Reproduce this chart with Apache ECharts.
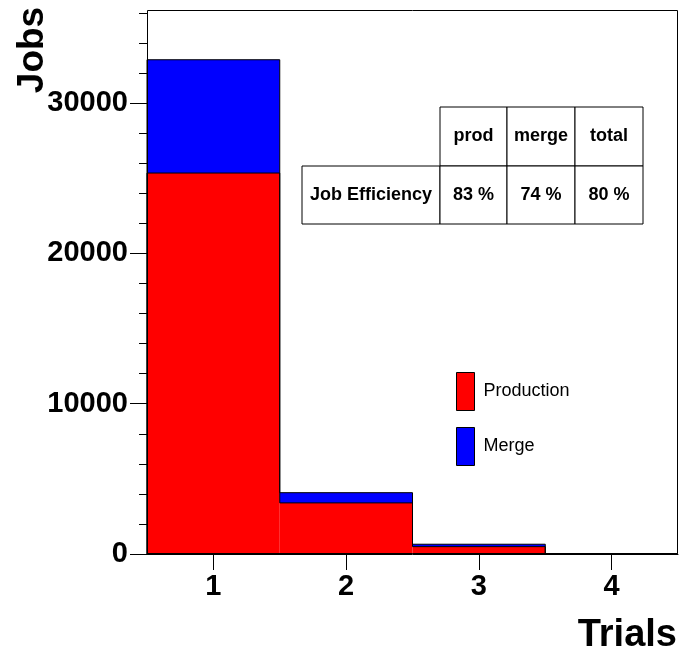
<!DOCTYPE html>
<html>
<head>
<meta charset="utf-8">
<script src="https://cdn.jsdelivr.net/npm/echarts@6/dist/echarts.min.js"></script>
<style>html,body{margin:0;padding:0;background:#fff;}#main{width:680px;height:653px;}</style>
</head>
<body>
<div id="main"></div>
<script>
var categories = ['1', '2', '3', '4'];
var production = [25350, 3400, 490, 0];
var merge = [7540, 680, 160, 0];
var yMax = 36000;
var yLabelMax = 30000;
var tableCols = ['prod', 'merge', 'total'];
var tableRowLabel = 'Job Efficiency';
var efficiency = ['83 %', '74 %', '80 %'];

var FONT = '"Liberation Sans", Arial, Helvetica, sans-serif';
var totals = production.map(function (p, i) { return p + merge[i]; });

var outlineData = categories.map(function (c, i) {
  return [i, production[i], totals[i], i > 0 ? production[i - 1] : 0, i > 0 ? totals[i - 1] : 0];
});

function renderOutline(params, api) {
  var i = api.value(0);
  var prod = api.value(1), tot = api.value(2), pProd = api.value(3), pTot = api.value(4);
  var w = api.size([1, 0])[0];
  var c = api.coord([i, 0]);
  var x0 = c[0] - w / 2, x1 = c[0] + w / 2;
  var yP = api.coord([i, prod])[1], yT = api.coord([i, tot])[1];
  var yPP = api.coord([i, pProd])[1], yPT = api.coord([i, pTot])[1];
  var style = { stroke: '#000', lineWidth: 1, fill: null };
  var children = [
    { type: 'line', shape: { x1: x0, y1: yT, x2: x1, y2: yT }, style: style },
    { type: 'line', shape: { x1: x0, y1: yP, x2: x1, y2: yP }, style: style },
    { type: 'line', shape: { x1: x0, y1: yPT, x2: x0, y2: yT }, style: style },
    { type: 'line', shape: { x1: x0, y1: yPP, x2: x0, y2: yP }, style: style }
  ];
  if (i === categories.length - 1) {
    var y0 = api.coord([i, 0])[1];
    children.push({ type: 'line', shape: { x1: x1, y1: yT, x2: x1, y2: y0 }, style: style });
  }
  return { type: 'group', children: children };
}

// table graphics
var tableGraphics = [];
var colX = [440, 507, 575, 643];
var rowY = [107, 166, 224];
var labelX0 = 302;
function cell(x0, y0, x1, y1, text) {
  tableGraphics.push({ type: 'rect', shape: { x: x0, y: y0, width: x1 - x0, height: y1 - y0 },
    style: { fill: '#fff', stroke: '#000', lineWidth: 1 }, z: 100 });
  tableGraphics.push({ type: 'text', x: (x0 + x1) / 2, y: (y0 + y1) / 2, z: 101,
    style: { text: text, font: 'bold 18px ' + FONT, fill: '#000', textAlign: 'center', textVerticalAlign: 'middle' } });
}
tableCols.forEach(function (t, k) { cell(colX[k], rowY[0], colX[k + 1], rowY[1], t); });
cell(labelX0, rowY[1], colX[0], rowY[2], tableRowLabel);
efficiency.forEach(function (t, k) { cell(colX[k], rowY[1], colX[k + 1], rowY[2], t); });

// geometry of the plot frame
var gLeft = 147, gRight = 2, gTop = 13, gBottom = 99;
var plotH = 653 - gTop - gBottom;
var gTop2 = gTop + plotH * (1 - yLabelMax / yMax);

var chart = echarts.init(document.getElementById('main'), null, { renderer: 'canvas' });
chart.setOption({
  animation: false,
  backgroundColor: '#fff',
  textStyle: { fontFamily: FONT },
  grid: [
    { left: gLeft, right: gRight, top: gTop, bottom: gBottom, show: false },
    { left: gLeft, right: gRight, top: gTop2, bottom: gBottom, show: false }
  ],
  xAxis: [{
    type: 'category', data: categories, boundaryGap: true, z: 10, gridIndex: 0,
    axisLine: { show: true, lineStyle: { color: '#000', width: 1 } },
    axisTick: { show: true, alignWithLabel: true, length: 16, lineStyle: { color: '#000' } },
    axisLabel: { fontSize: 29, fontWeight: 'bold', color: '#000', margin: 18, fontFamily: FONT },
    splitLine: { show: false }
  }, {
    type: 'category', data: categories, gridIndex: 1, show: false
  }],
  yAxis: [{
    type: 'value', min: 0, max: yMax, interval: 2000, z: 10, gridIndex: 0,
    axisLine: { show: true, lineStyle: { color: '#000', width: 1 } },
    axisTick: { show: true, length: 8, lineStyle: { color: '#000' } },
    axisLabel: { show: false },
    splitLine: { show: false }
  }, {
    type: 'value', min: 0, max: yLabelMax, interval: 10000, z: 10, gridIndex: 1,
    axisLine: { show: false },
    axisTick: { show: true, length: 17, lineStyle: { color: '#000' } },
    axisLabel: { fontSize: 29, fontWeight: 'bold', color: '#000', margin: 19, fontFamily: FONT,
      formatter: function (v) { return String(v); } },
    splitLine: { show: false }
  }],
  legend: {
    data: ['Production', 'Merge'], orient: 'vertical', left: 456, top: 372, padding: 0,
    itemWidth: 18, itemHeight: 38, itemGap: 16, icon: 'rect',
    itemStyle: { borderColor: '#000', borderWidth: 1 },
    textStyle: { fontSize: 18, color: '#000', fontFamily: FONT, padding: [0, 0, 0, 4] }
  },
  series: [
    { name: 'Production', type: 'bar', stack: 'h', data: production, barWidth: '100%', barCategoryGap: 0,
      itemStyle: { color: '#ff0000' } },
    { name: 'Merge', type: 'bar', stack: 'h', data: merge, barWidth: '100%', barCategoryGap: 0,
      itemStyle: { color: '#0000ff' } },
    { name: 'outline', type: 'custom', renderItem: renderOutline, data: outlineData, z: 5, silent: true }
  ],
  graphic: [
    { type: 'rect', shape: { x: 147.5, y: 10.5, width: 530, height: 543 }, z: 50, silent: true,
      style: { fill: null, stroke: '#000', lineWidth: 1 } },
    { type: 'text', x: 33, y: 50, rotation: Math.PI / 2, z: 100,
      style: { text: 'Jobs', font: 'bold 37px ' + FONT, fill: '#000', textAlign: 'center', textVerticalAlign: 'middle' } },
    { type: 'text', x: 677, y: 636, z: 100,
      style: { text: 'Trials', font: 'bold 38px ' + FONT, fill: '#000', textAlign: 'right', textVerticalAlign: 'middle' } }
  ].concat(tableGraphics)
});
</script>
</body>
</html>
